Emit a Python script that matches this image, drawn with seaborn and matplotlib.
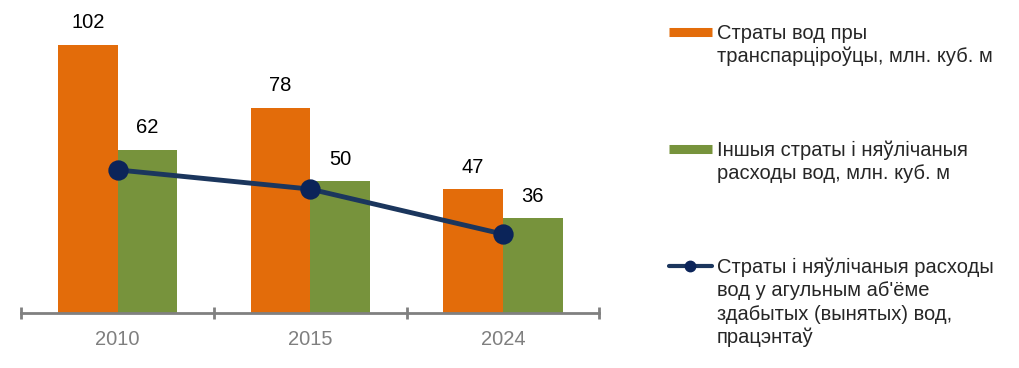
import pandas as pd
import seaborn as sns
import matplotlib.pyplot as plt
from matplotlib.lines import Line2D

years = ['2010', '2015', '2024']
transport_loss = [102, 78, 47]
other_loss = [62, 50, 36]
loss_share = [54.4, 47.1, 30.0]

label_transport = 'Страты вод пры\nтранспарціроўцы, млн. куб. м'
label_other = 'Іншыя страты і няўлічаныя\nрасходы вод, млн. куб. м'
label_share = 'Страты і няўлічаныя расходы\nвод у агульным аб\'ёме\nздабытых (вынятых) вод,\nпрацэнтаў'

ORANGE = '#E36C0A'
GREEN = '#77933C'
NAVY = '#1B365D'
DOT = '#0B2459'
GREY = '#808080'


def build_frame():
    df = pd.DataFrame({
        'year': years * 2,
        'value': transport_loss + other_loss,
        'series': [label_transport] * 3 + [label_other] * 3,
    })
    return df


def create_chart(df):
    sns.set_theme(style='white')
    plt.rcParams['font.family'] = ['Liberation Sans', 'DejaVu Sans']

    fig = plt.figure(figsize=(10.19, 3.68), dpi=100)
    ax = fig.add_axes([0.021, 0.1495, 0.567, 0.8505])

    sns.barplot(data=df, x='year', y='value', hue='series',
                palette=[ORANGE, GREEN], width=0.62, gap=0,
                saturation=1, linewidth=0, ax=ax, legend=False)
    for cont in ax.containers:
        ax.bar_label(cont, padding=9, fontsize=14.5, color='#000000')

    ax2 = ax.twinx()
    sns.pointplot(x=years, y=loss_share, color=NAVY, ax=ax2,
                  markers='o', markersize=12, linewidth=3.5)
    for ln in ax2.lines:
        ln.set_markerfacecolor(DOT)
        ln.set_markeredgecolor(DOT)

    for a in (ax, ax2):
        a.set_ylim(0, 119)
        a.set_xlim(-0.5, 2.5)
        a.set_yticks([])
        a.set_ylabel('')
        a.set_xlabel('')
        for s in ('top', 'right', 'left'):
            a.spines[s].set_visible(False)
    ax2.spines['bottom'].set_visible(False)

    ax.spines['bottom'].set_color(GREY)
    ax.spines['bottom'].set_linewidth(2)
    ax.set_xticks([-0.5, 0.5, 1.5, 2.5], minor=True)
    ax.tick_params(axis='x', which='minor', bottom=True, length=9,
                   width=2, color=GREY, direction='inout')
    ax.tick_params(axis='x', which='major', length=0, pad=12,
                   labelsize=14.5, labelcolor='#7F7F7F')

    handles = [
        Line2D([0], [0], color=ORANGE, lw=6.5, solid_capstyle='butt'),
        Line2D([0], [0], color=GREEN, lw=6.5, solid_capstyle='butt'),
        Line2D([0], [0], color=NAVY, lw=3, marker='o', markersize=7.5,
               markerfacecolor=DOT, markeredgecolor=DOT),
    ]
    leg = fig.legend(handles, [label_transport, label_other, label_share],
                     loc='upper left', bbox_to_anchor=(0.639, 0.985),
                     frameon=False, fontsize=14.5, labelspacing=3.7,
                     handlelength=2.1, handleheight=1.0, handletextpad=0.25)
    for t in leg.get_texts():
        t.set_linespacing(1.27)
    # keep each marker on the first line of its label
    for col in leg._legend_handle_box.get_children():
        for row in col.get_children():
            row.align = 'top'

    fig.savefig('out.png', dpi=100)


def main():
    df = build_frame()
    create_chart(df)


if __name__ == "__main__":
    main()
